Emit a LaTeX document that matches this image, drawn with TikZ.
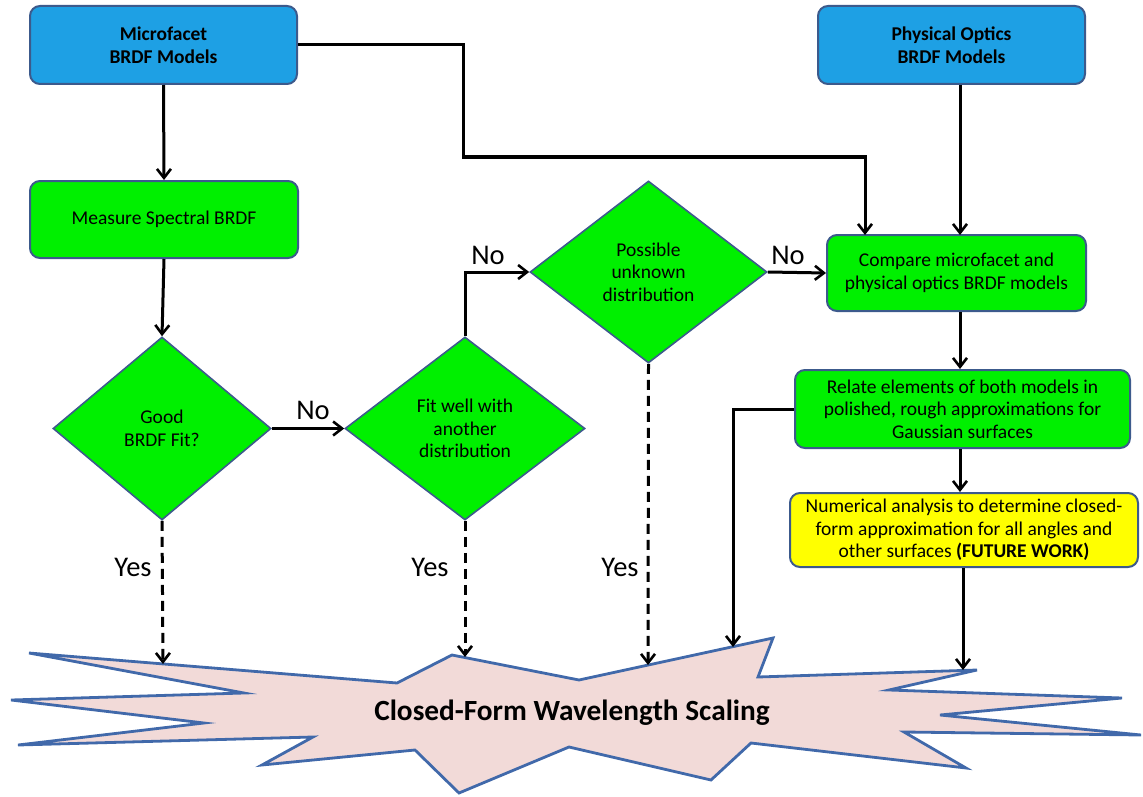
\documentclass[tikz,border=0pt]{standalone}
\usepackage{fontspec}
\setmainfont{Carlito}
\usetikzlibrary{shapes.geometric,arrows.meta}
\definecolor{bluefill}{RGB}{30,160,228}
\definecolor{greenfill}{RGB}{0,240,0}
\definecolor{yellowfill}{RGB}{255,255,0}
\definecolor{edgeblue}{RGB}{60,90,140}
\definecolor{starfill}{RGB}{242,218,216}
\definecolor{staredge}{RGB}{65,105,170}
\begin{document}
\begin{tikzpicture}[x=1pt,y=-1pt,
  every node/.style={font=\fontsize{19.5}{22.5}\selectfont},
  box/.style={draw=edgeblue,line width=2pt,rounded corners=10pt,align=center,inner sep=0pt},
  bluebox/.style={box,fill=bluefill,minimum width=267pt,minimum height=78pt,font=\fontsize{19.5}{23}\selectfont\bfseries},
  greenbox/.style={box,fill=greenfill},
  yellowbox/.style={box,fill=yellowfill},
  decision/.style={diamond,draw=edgeblue,line width=1.6pt,fill=greenfill,inner sep=0pt,aspect=1},
  lbl/.style={font=\fontsize{28.5}{32}\selectfont},
  arr/.style={line width=3pt,-{Straight Barb[length=9pt,width=14pt,line width=2.6pt]}},
  darr/.style={arr,dash pattern=on 10pt off 6pt}
]
\useasboundingbox (0,0) rectangle (1143,797);

% boxes
\node[bluebox] (mf) at (163.5,45) {Microfacet\\BRDF Models};
\node[bluebox] (po) at (951.5,45) {Physical Optics\\BRDF Models};
\node[greenbox,minimum width=268pt,minimum height=77pt] (ms) at (164,219.5) {Measure Spectral BRDF};
\node[greenbox,minimum width=259pt,minimum height=76pt] (cmp) at (956.5,273) {Compare microfacet and\\physical optics BRDF models};
\node[greenbox,minimum width=335pt,minimum height=78pt] (rel) at (962.5,409) {Relate elements of both models in\\polished, rough approximations for\\Gaussian surfaces};
\node[yellowbox,minimum width=348pt,minimum height=74pt] (num) at (964,530) {Numerical analysis to determine closed-\\form approximation for all angles and\\other surfaces \textbf{(FUTURE WORK)}};

% decisions
\node[decision,minimum width=218pt,minimum height=183pt] (d1) at (162,428.5) {};
\node[align=center] at (d1.center) {Good\\BRDF Fit?};
\node[decision,minimum width=240pt,minimum height=183pt] (d2) at (465,428.5) {};
\node[align=center] at (d2.center) {Fit well with\\another\\distribution};
\node[decision,minimum width=237pt,minimum height=182pt] (d3) at (648.5,272) {};
\node[align=center] at (d3.center) {Possible\\unknown\\distribution};

% star
\draw[draw=staredge,fill=starfill,line width=2.8pt,line join=miter]
  (29,653) -- (397,683) -- (452,655) -- (579,680) -- (773,638) -- (758,677)
  -- (977,670) -- (889,690) -- (1122,698) -- (940,715) -- (1141,735)
  -- (904,732) -- (966,768) -- (751,743) -- (711,780) -- (569,747)
  -- (459,793) -- (415,750) -- (262,765) -- (313,737) -- (18,745)
  -- (204,723) -- (11,700) -- (244,693) -- cycle;
\node[font=\fontsize{29.3}{34}\selectfont\bfseries] (star) at (572,713) {Closed-Form Wavelength Scaling};

\coordinate (s1) at (163,664);
\coordinate (s2) at (465,657);
\coordinate (s3) at (648,665);
\coordinate (s4) at (733,647);
\coordinate (s5) at (963,670);

% connectors
\draw[arr] (mf.south) -- (ms.north);
\draw[arr] (ms.south) -- (d1.north);
\draw[arr] (mf.east) -- (463,45) -- (463,157) -- (865,157) -- (865,235);
\draw[arr] (po.south -| 960,0) -- (960,235);
\draw[arr] (d1.east) -- (d2.west);
\draw[arr] (d2.north) |- (d3.west);
\draw[arr] (d3.east) -- (cmp.west);
\draw[arr] (cmp.south -| 960,0) -- (rel.north -| 960,0);
\draw[arr] (rel.south -| 960,0) -- (num.north -| 960,0);
\draw[arr] (rel.west) -- (733,409) -- (s4);
\draw[arr] (num.south -| 963,0) -- (s5);
\draw[darr] (d1.south) -- (s1);
\draw[darr] (d2.south) -- (s2);
\draw[darr] (d3.south) -- (s3);

% labels
\node[lbl] (no1) at (313,410) {No};
\node[lbl] (no2) at (488,255) {No};
\node[lbl] (no3) at (788,255) {No};
\node[lbl] (y1) at (133,567) {Yes};
\node[lbl] (y2) at (430,567) {Yes};
\node[lbl] (y3) at (620,567) {Yes};
\end{tikzpicture}
\end{document}
